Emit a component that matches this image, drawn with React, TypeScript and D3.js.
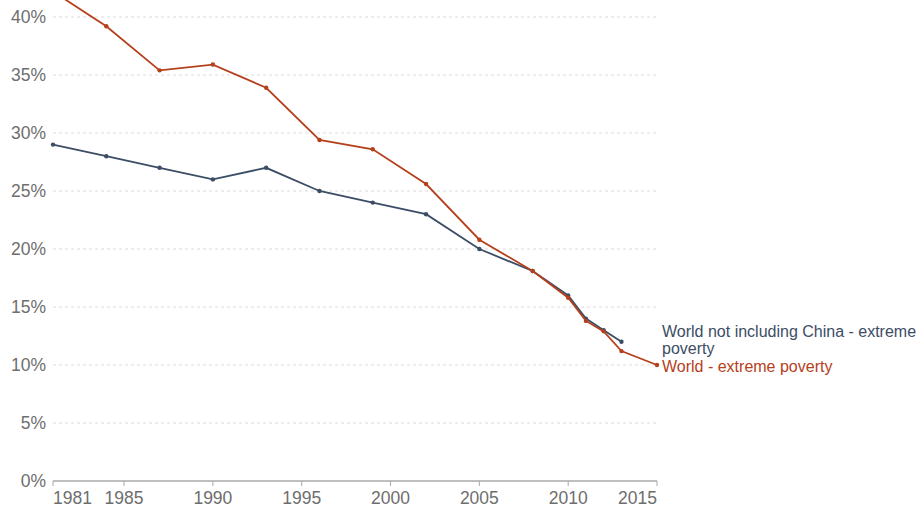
import React from "react";
import * as d3 from "d3";

const worldYears = [1981, 1984, 1987, 1990, 1993, 1996, 1999, 2002, 2005, 2008, 2010, 2011, 2012, 2013, 2015];
const worldValues = [42.2, 39.2, 35.4, 35.9, 33.9, 29.4, 28.6, 25.6, 20.8, 18.1, 15.8, 13.8, 12.9, 11.2, 10.0];
const exChinaYears = [1981, 1984, 1987, 1990, 1993, 1996, 1999, 2002, 2005, 2008, 2010, 2011, 2012, 2013];
const exChinaValues = [29.0, 28.0, 27.0, 26.0, 27.0, 25.0, 24.0, 23.0, 20.0, 18.1, 16.0, 14.0, 13.0, 12.0];
const xTicks = [1981, 1985, 1990, 1995, 2000, 2005, 2010, 2015];
const yTicks = [0, 5, 10, 15, 20, 25, 30, 35, 40];

const W = 922;
const H = 512;
const RED = "#b5401c";
const BLUE = "#3c4d66";
const FONT = "'Liberation Sans', Arial, Helvetica, sans-serif";

export default function App() {
  const x = d3.scaleLinear().domain([1981, 2015]).range([53, 657]);
  const y = d3.scaleLinear().domain([0, 40]).range([481, 17]);
  const line = d3
    .line<[number, number]>()
    .x((d) => x(d[0]))
    .y((d) => y(d[1]));
  const world: [number, number][] = worldYears.map((yr, i) => [yr, worldValues[i]]);
  const exChina: [number, number][] = exChinaYears.map((yr, i) => [yr, exChinaValues[i]]);
  const [x0, x1] = x.range();

  return (
    <svg
      width={W}
      height={H}
      style={{ position: "absolute", left: 0, top: 0, display: "block", background: "#fff" }}
      fontFamily={FONT}
    >
      {yTicks.filter((t) => t > 0).map((t) => (
        <line key={t} x1={x0} x2={x1} y1={y(t)} y2={y(t)} stroke="#dcdcdc" strokeDasharray="3,3" strokeWidth={1} />
      ))}
      {yTicks.map((t) => (
        <text key={t} x={46} y={y(t)} dy="0.35em" textAnchor="end" fontSize={17.5} fill="#6e6e6e">
          {t}%
        </text>
      ))}
      <line x1={x0} x2={x1} y1={y(0)} y2={y(0)} stroke="#aaaaaa" strokeWidth={1.5} />
      {xTicks.map((t, i) => (
        <g key={t}>
          <line x1={x(t)} x2={x(t)} y1={y(0)} y2={y(0) + 5} stroke="#aaaaaa" strokeWidth={1} />
          <text
            x={x(t)}
            y={y(0) + 17}
            dy="0.35em"
            textAnchor={i === 0 ? "start" : i === xTicks.length - 1 ? "end" : "middle"}
            fontSize={17.5}
            fill="#6e6e6e"
          >
            {t}
          </text>
        </g>
      ))}
      <path d={line(exChina) || ""} fill="none" stroke={BLUE} strokeWidth={1.8} />
      {exChina.map((d, i) => (
        <circle key={i} cx={x(d[0])} cy={y(d[1])} r={2.2} fill={BLUE} />
      ))}
      <path d={line(world) || ""} fill="none" stroke={RED} strokeWidth={1.8} />
      {world.map((d, i) => (
        <circle key={i} cx={x(d[0])} cy={y(d[1])} r={2.2} fill={RED} />
      ))}
      <text x={662} y={331} dy="0.35em" fontSize={16} fill={BLUE}>
        World not including China - extreme
      </text>
      <text x={662} y={348} dy="0.35em" fontSize={16} fill={BLUE}>
        poverty
      </text>
      <text x={662} y={366} dy="0.35em" fontSize={16} fill={RED}>
        World - extreme poverty
      </text>
    </svg>
  );
}
